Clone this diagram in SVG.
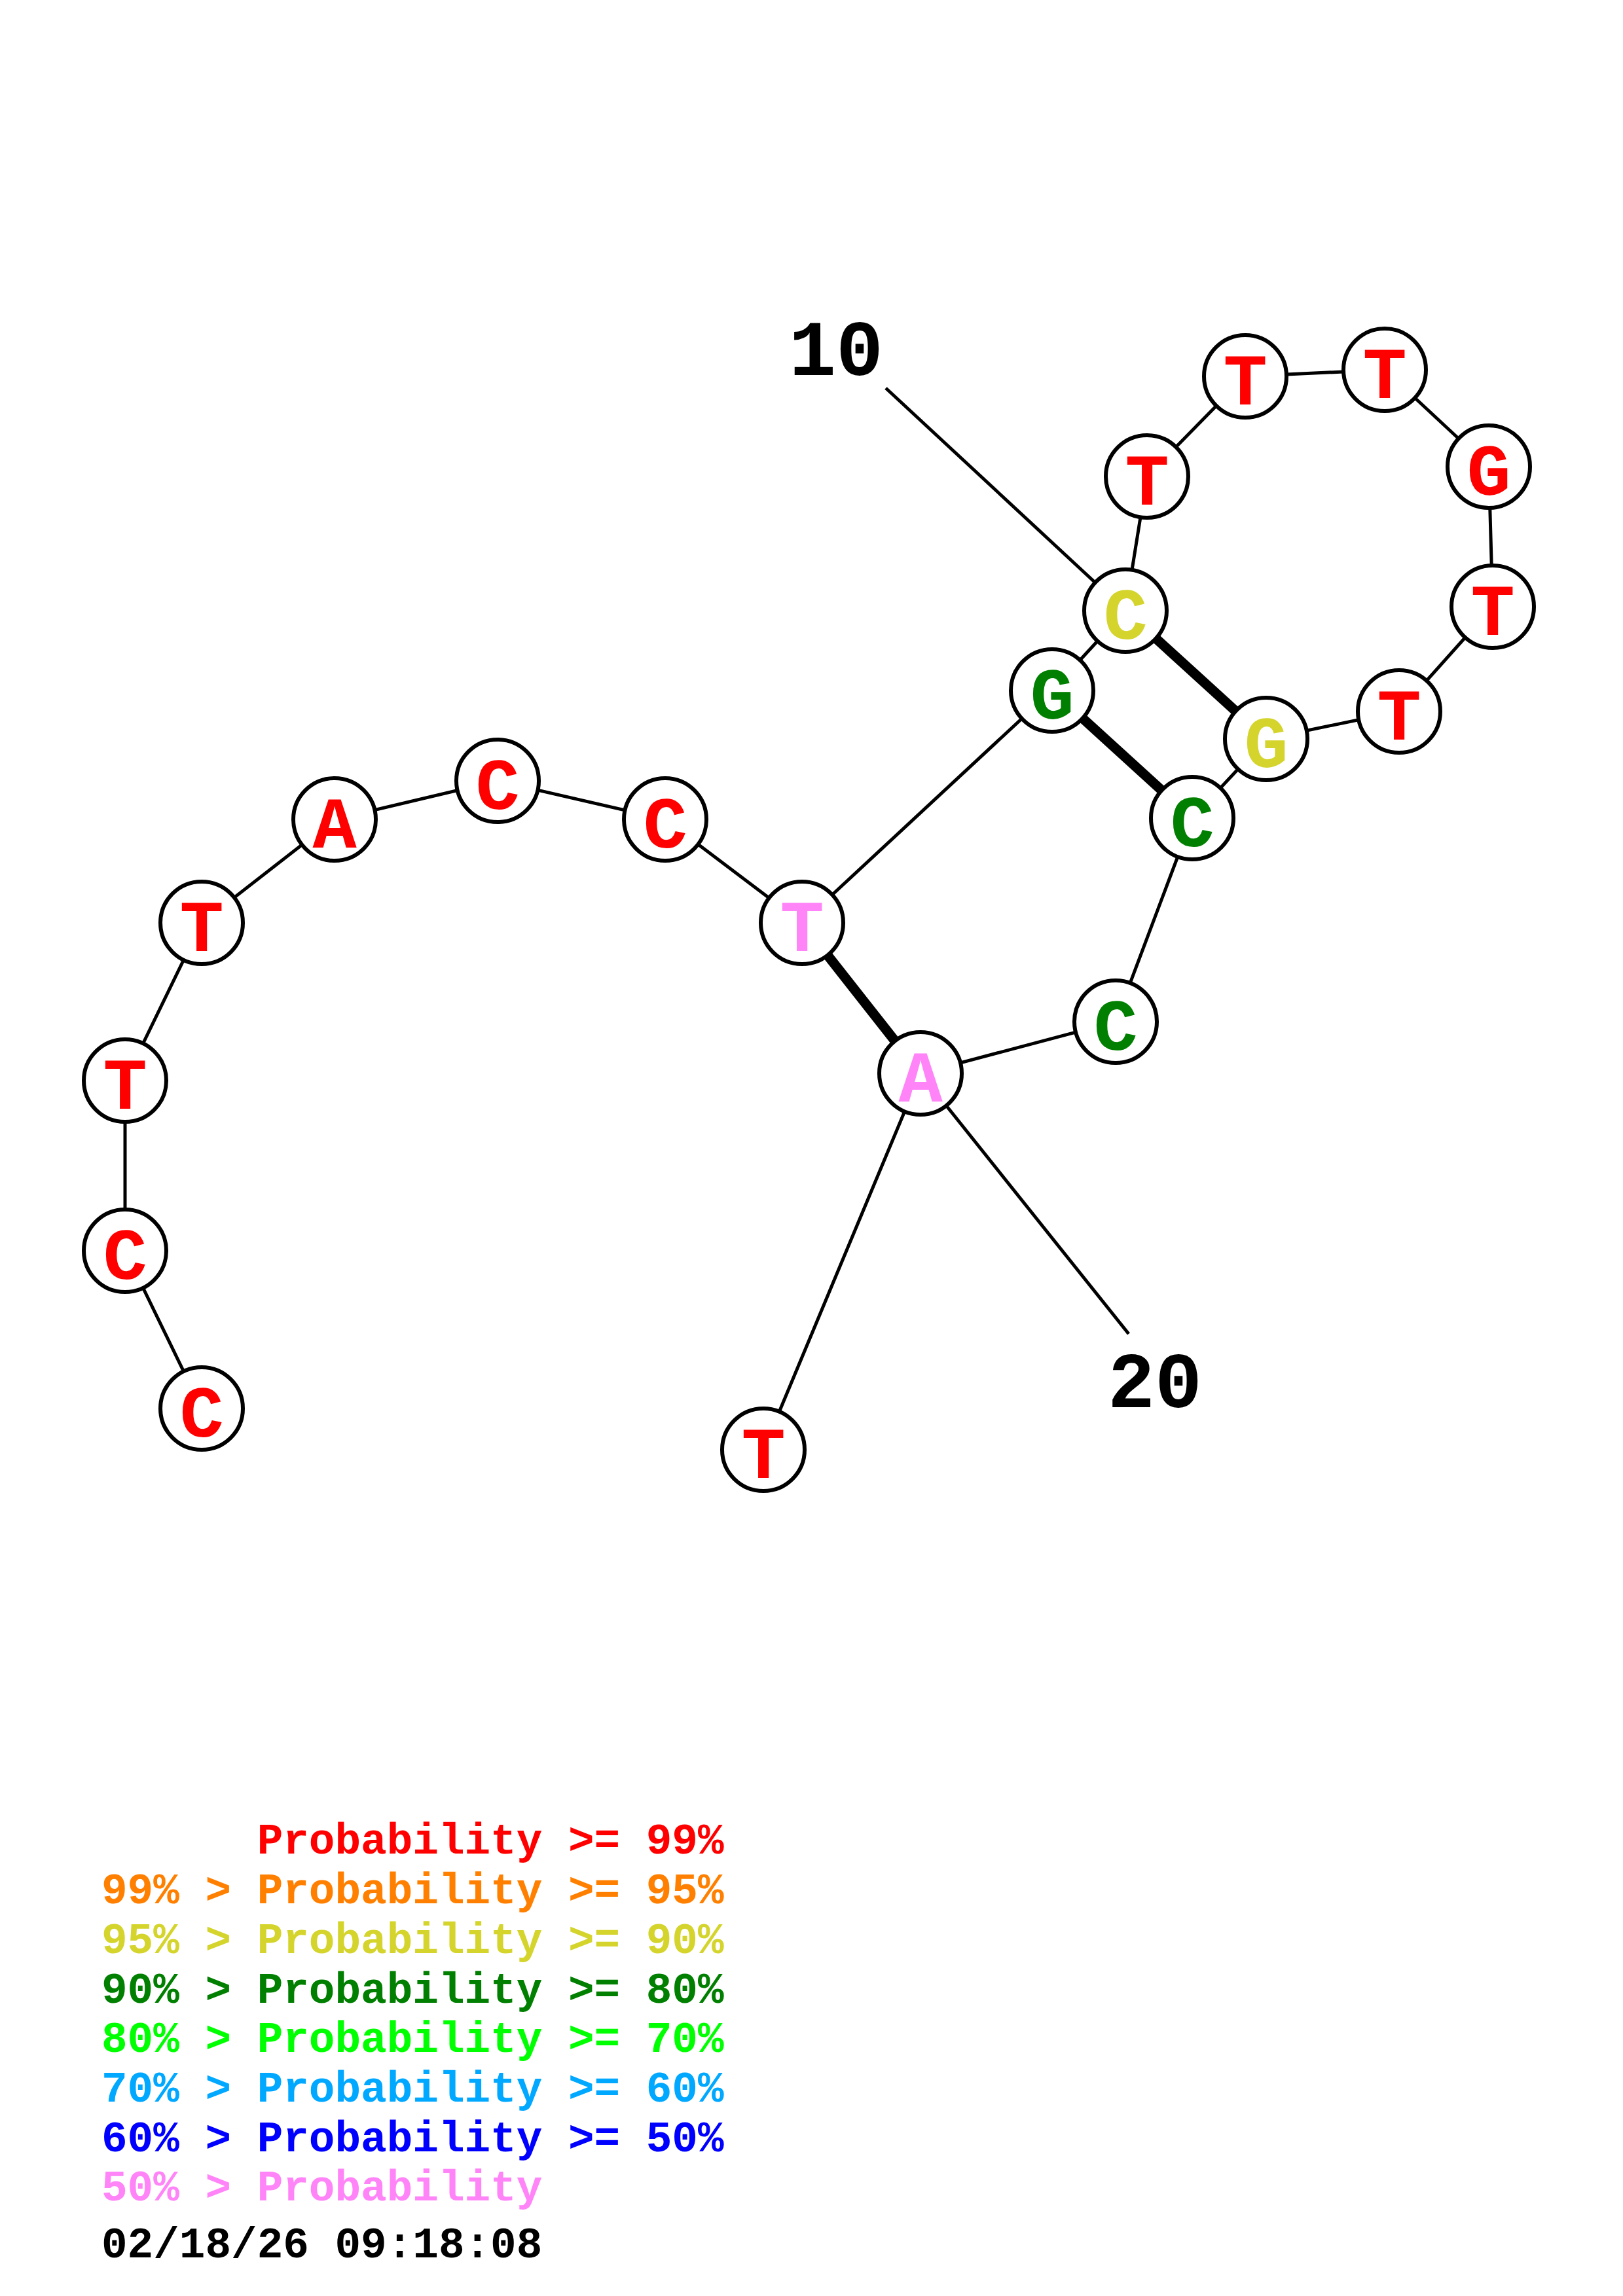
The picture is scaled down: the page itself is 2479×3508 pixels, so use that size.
<svg xmlns="http://www.w3.org/2000/svg" width="2479" height="3508" viewBox="0 0 2479 3508">
<style>
.bb{stroke:#000;stroke-width:5;fill:none}
.bp{stroke:#000;stroke-width:15;fill:none}
.nd circle{fill:#fff;stroke:#000;stroke-width:6}
.nd text{font-family:"Liberation Mono",monospace;font-weight:bold;font-size:112px;text-anchor:middle}
.r{fill:#ff0000}.y{fill:#d4d42c}.g{fill:#007f00}.p{fill:#ff84f8}
.lbl{font-family:"Liberation Mono",monospace;font-weight:bold;font-size:120px;fill:#000}
.lg{font-family:"Liberation Mono",monospace;font-weight:bold;font-size:66px;white-space:pre}
</style>
<rect width="2479" height="3508" fill="#fff"/>
<g id="connectors">
<polyline class="bb" points="308,2152 191,1911 191,1651 308,1410 511,1252 760,1193 1016,1252 1225,1410 1607,1055 1719,933 1752,728 1902,575 2115,565 2274,713 2280,927 2137,1087 1934,1129 1821,1250 1704,1561 1406,1640 1166,2215"/>
<line class="bp" x1="1225" y1="1410" x2="1406" y2="1640"/>
<line class="bp" x1="1607" y1="1055" x2="1821" y2="1250"/>
<line class="bp" x1="1719" y1="933" x2="1934" y2="1129"/>
<line class="bb" x1="1353" y1="593" x2="1719" y2="933"/>
<line class="bb" x1="1406" y1="1640" x2="1724" y2="2038"/>
</g>
<g id="n1" class="nd"><circle cx="308" cy="2152" r="63"/><text x="308" y="2195" class="r">C</text></g>
<g id="n2" class="nd"><circle cx="191" cy="1911" r="63"/><text x="191" y="1954" class="r">C</text></g>
<g id="n3" class="nd"><circle cx="191" cy="1651" r="63"/><text x="191" y="1694" class="r">T</text></g>
<g id="n4" class="nd"><circle cx="308" cy="1410" r="63"/><text x="308" y="1453" class="r">T</text></g>
<g id="n5" class="nd"><circle cx="511" cy="1252" r="63"/><text x="511" y="1295" class="r">A</text></g>
<g id="n6" class="nd"><circle cx="760" cy="1193" r="63"/><text x="760" y="1236" class="r">C</text></g>
<g id="n7" class="nd"><circle cx="1016" cy="1252" r="63"/><text x="1016" y="1295" class="r">C</text></g>
<g id="n8" class="nd"><circle cx="1225" cy="1410" r="63"/><text x="1225" y="1453" class="p">T</text></g>
<g id="n9" class="nd"><circle cx="1607" cy="1055" r="63"/><text x="1607" y="1098" class="g">G</text></g>
<g id="n10" class="nd"><circle cx="1719" cy="933" r="63"/><text x="1719" y="976" class="y">C</text></g>
<g id="n11" class="nd"><circle cx="1752" cy="728" r="63"/><text x="1752" y="771" class="r">T</text></g>
<g id="n12" class="nd"><circle cx="1902" cy="575" r="63"/><text x="1902" y="618" class="r">T</text></g>
<g id="n13" class="nd"><circle cx="2115" cy="565" r="63"/><text x="2115" y="608" class="r">T</text></g>
<g id="n14" class="nd"><circle cx="2274" cy="713" r="63"/><text x="2274" y="756" class="r">G</text></g>
<g id="n15" class="nd"><circle cx="2280" cy="927" r="63"/><text x="2280" y="970" class="r">T</text></g>
<g id="n16" class="nd"><circle cx="2137" cy="1087" r="63"/><text x="2137" y="1130" class="r">T</text></g>
<g id="n17" class="nd"><circle cx="1934" cy="1129" r="63"/><text x="1934" y="1172" class="y">G</text></g>
<g id="n18" class="nd"><circle cx="1821" cy="1250" r="63"/><text x="1821" y="1293" class="g">C</text></g>
<g id="n19" class="nd"><circle cx="1704" cy="1561" r="63"/><text x="1704" y="1604" class="g">C</text></g>
<g id="n20" class="nd"><circle cx="1406" cy="1640" r="63"/><text x="1406" y="1683" class="p">A</text></g>
<g id="n21" class="nd"><circle cx="1166" cy="2215" r="63"/><text x="1166" y="2258" class="r">T</text></g>
<text class="lbl" x="1205" y="573">10</text>
<text class="lbl" x="1692" y="2150">20</text>
<g id="legend">
<text class="lg" x="155" y="2832" fill="#ff0000">      Probability &gt;= 99%</text>
<text class="lg" x="155" y="2908" fill="#ff8000">99% &gt; Probability &gt;= 95%</text>
<text class="lg" x="155" y="2984" fill="#d4d42c">95% &gt; Probability &gt;= 90%</text>
<text class="lg" x="155" y="3060" fill="#007f00">90% &gt; Probability &gt;= 80%</text>
<text class="lg" x="155" y="3135" fill="#00ff00">80% &gt; Probability &gt;= 70%</text>
<text class="lg" x="155" y="3211" fill="#00a8ff">70% &gt; Probability &gt;= 60%</text>
<text class="lg" x="155" y="3287" fill="#0000ff">60% &gt; Probability &gt;= 50%</text>
<text class="lg" x="155" y="3362" fill="#ff84f8">50% &gt; Probability</text>
<text class="lg" x="155" y="3449" fill="#000">02/18/26 09:18:08</text>
</g>
</svg>
